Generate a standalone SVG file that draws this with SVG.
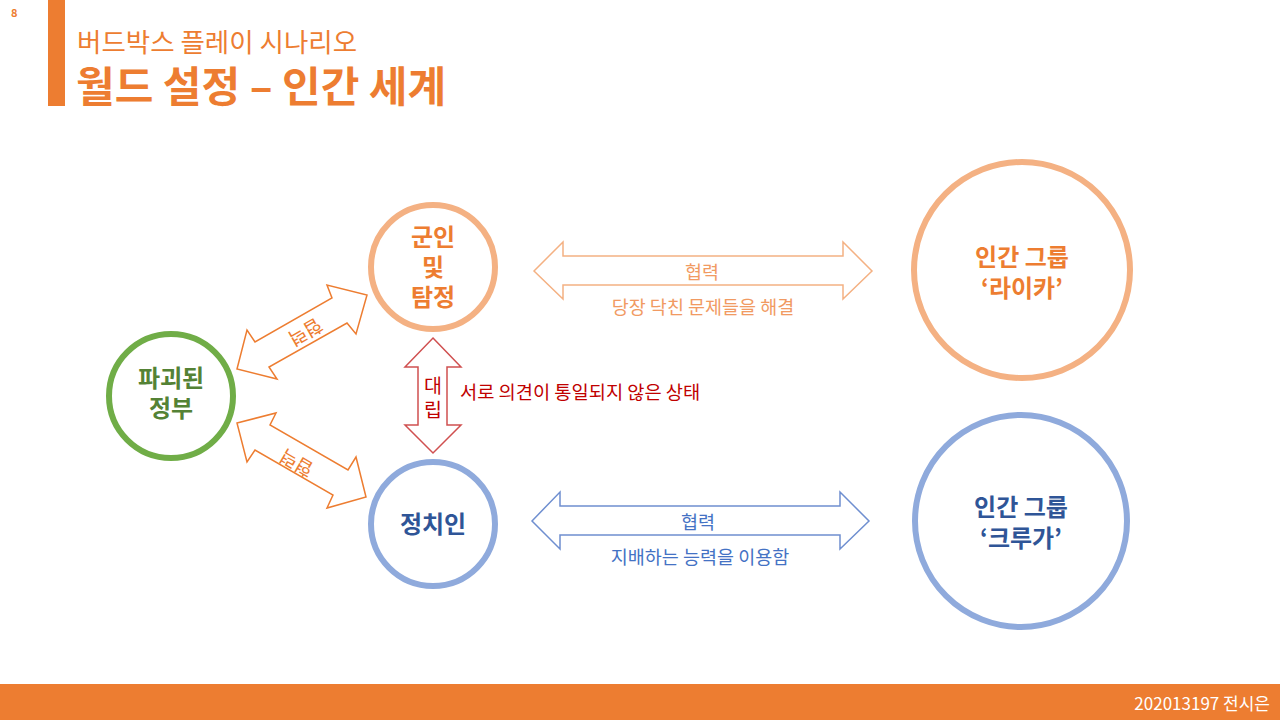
<svg xmlns="http://www.w3.org/2000/svg" width="1280" height="720" viewBox="0 0 1280 720">
<style>
text { font-family: "Noto Sans CJK KR", "Noto Sans", sans-serif; }
.node { fill: none; stroke-width: 6; }
.ot { fill: #ED7D31; font-weight: bold; font-size: 24px; text-anchor: middle; }
.bt { fill: #2F5597; font-weight: bold; font-size: 24px; text-anchor: middle; }
.gt { fill: #548235; font-weight: bold; font-size: 24px; text-anchor: middle; }
.lab { font-size: 18.5px; text-anchor: middle; }
</style>
<rect width="1280" height="720" fill="#FFFFFF"/>
<!-- header -->
<g id="header">
  <text x="11" y="17" font-size="11" font-weight="bold" fill="#ED7D31" font-family="Liberation Sans, sans-serif">8</text>
  <rect x="48" y="0" width="17" height="106" fill="#ED7D31"/>
  <text x="77" y="52" font-size="26.5" fill="#ED7D31">버드박스 플레이 시나리오</text>
  <text x="76" y="102" font-size="42" font-weight="bold" fill="#ED7D31">월드 설정 – 인간 세계</text>
</g>
<!-- footer -->
<g id="footer">
  <rect x="0" y="684" width="1280" height="36" fill="#ED7D31"/>
  <text x="1270" y="710" font-size="17" fill="#FFFFFF" text-anchor="end">202013197 전시은</text>
</g>
<!-- connectors -->
<g id="connectors" stroke-width="1.5" stroke-linejoin="miter">
  <polygon points="237,369 247,330 255,342 332,298 327,285 367,295 356,334 347,323 269,367 277,379" fill="none" stroke="#ED7D31"/>
  <text x="0" y="0" font-size="19" fill="#ED7D31" text-anchor="middle" transform="translate(302,326) rotate(150)">협력</text>
  <polygon points="237,423 276,413 270,425 348,470 356,457 366,497 327,508 333,495 255,450 247,462" fill="none" stroke="#ED7D31"/>
  <text x="0" y="0" font-size="19" fill="#ED7D31" text-anchor="middle" transform="translate(300,457) rotate(210)">협력</text>
  <polygon points="433,338 461,367 447,367 447,425 461,425 433,453 405,425 418,425 418,367 405,367" fill="none" stroke="#D05050"/>
  <text x="433" y="393" font-size="19.5" fill="#C00000" text-anchor="middle">대</text>
  <text x="433" y="417" font-size="19.5" fill="#C00000" text-anchor="middle">립</text>
  <text x="460" y="399" font-size="18.7" fill="#C00000">서로 의견이 통일되지 않은 상태</text>
  <polygon points="534,271 563,242 563,256 843,256 843,242 872,271 843,299 843,285 563,285 563,299" fill="none" stroke="#F4B183"/>
  <text x="702" y="279" class="lab" fill="#F19A62">협력</text>
  <text x="703" y="314" class="lab" fill="#F19A62">당장 닥친 문제들을 해결</text>
  <polygon points="532,521 560,492 560,506 840,506 840,492 869,521 840,549 840,535 560,535 560,549" fill="none" stroke="#6F8FD0"/>
  <text x="698" y="529" class="lab" fill="#4472C4">협력</text>
  <text x="700" y="564" class="lab" fill="#4472C4">지배하는 능력을 이용함</text>
</g>
<!-- nodes -->
<g id="soldiers">
  <circle cx="433" cy="267" r="62" class="node" stroke="#F4B183"/>
  <text x="433" y="246" class="ot">군인</text>
  <text x="433" y="276" class="ot">및</text>
  <text x="433" y="306" class="ot">탐정</text>
</g>
<g id="government">
  <circle cx="171" cy="396" r="62" class="node" stroke="#70AD47"/>
  <text x="171" y="387" class="gt">파괴된</text>
  <text x="171" y="417" class="gt">정부</text>
</g>
<g id="politicians">
  <circle cx="433" cy="524" r="62" class="node" stroke="#8FAADC"/>
  <text x="433" y="533" class="bt">정치인</text>
</g>
<g id="laika">
  <circle cx="1022" cy="270" r="108" class="node" stroke="#F4B183"/>
  <text x="1022" y="266" class="ot" font-size="25.5">인간 그룹</text>
  <text x="1022" y="297" class="ot" font-size="25.5">‘라이카’</text>
</g>
<g id="kruger">
  <circle cx="1021" cy="521" r="106" class="node" stroke="#8FAADC"/>
  <text x="1021" y="516" class="bt" font-size="25.5">인간 그룹</text>
  <text x="1021" y="547" class="bt" font-size="25.5">‘크루가’</text>
</g>
</svg>
